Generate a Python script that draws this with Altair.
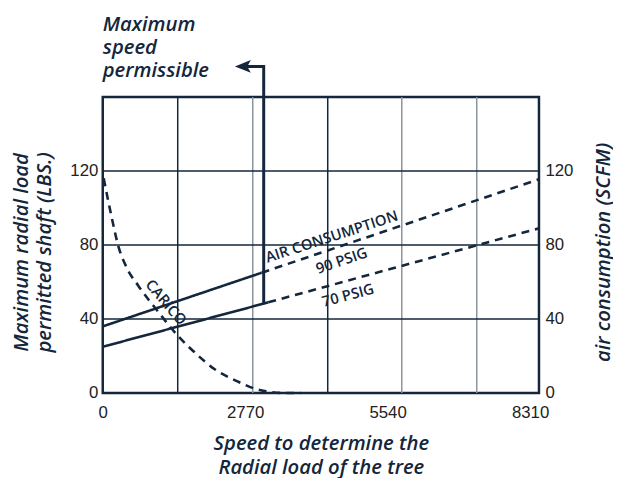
import altair as alt
import pandas as pd

# ---- data ----
speed_ticks = [0, 2770, 5540, 8310]
load_ticks = [0, 40, 80, 120]
grid_speed = [1458, 2917, 4375, 5815, 7273]
grid_tone = ["dark", "gray", "dark", "gray", "gray"]
grid_load = [40, 80, 120]

carico_speed = [19, 173, 307, 461, 691, 1075, 1459, 1785, 2169, 2610, 3051, 3570, 3857]
carico_load = [116, 95, 79, 68, 58, 44, 31, 22, 13, 6.4, 1.6, 0, 0]

psig90_speed = [0, 3090, 8483]
psig90_air = [36, 65, 115.5]
psig70_speed = [0, 3220, 8483]
psig70_air = [25, 49, 89]

limit_speed = [3130, 3130, 2780]
limit_load = [48, 176.5, 176.5]
arrow_speed = [2725]
arrow_load = [176.5]

label_text = ["AIR CONSUMPTION", "90 PSIG", "70 PSIG", "CARICO"]
label_speed = [4452, 4644, 4769, 1230]
label_load = [84.5, 71.5, 52.8, 49]
label_angle = [342, 341, 345, 50]

NAVY = "#13263b"
GRAY = "#8c949c"
TICK = "#222222"

xscale = alt.Scale(domain=[0, 8483], nice=False, zero=False)
yscale = alt.Scale(domain=[0, 160], nice=False, zero=False)

# ---- tables ----
df_vgrid = pd.DataFrame({"speed": grid_speed, "tone": grid_tone})
df_hgrid = pd.DataFrame({"load": grid_load})
df_carico = pd.DataFrame({"speed": carico_speed, "load": carico_load})

rows = []
for name, sp, ai in [("90", psig90_speed, psig90_air), ("70", psig70_speed, psig70_air)]:
    rows += [(name, "solid", sp[0], ai[0]), (name, "solid", sp[1], ai[1]),
             (name, "dashed", sp[1], ai[1]), (name, "dashed", sp[2], ai[2])]
df_lines = pd.DataFrame(rows, columns=["series", "seg", "speed", "air"])

df_limit = pd.DataFrame({"speed": limit_speed, "load": limit_load, "i": list(range(len(limit_speed)))})
df_arrow = pd.DataFrame({"speed": arrow_speed, "load": arrow_load})
df_labels = pd.DataFrame({"text": label_text, "speed": label_speed, "load": label_load, "angle": label_angle})

TFS = 20.5
TFW = 600
x_axis = alt.Axis(
    values=speed_ticks, format="d", grid=False, ticks=False, domain=False,
    labelFont="Liberation Sans", labelFontSize=17, labelColor=TICK, labelPadding=12, labelFlush=False,
    title=["Speed to determine the", "Radial load of the tree"],
    titleFont="Open Sans", titleFontSize=TFS, titleFontStyle="italic", titleFontWeight=TFW,
    titleColor=NAVY, titleX=221, titleY=57, titleBaseline="alphabetic", titleLineHeight=25, titleAlign="center",
)
y_left = alt.Axis(
    orient="left", values=load_ticks, format="d", grid=False, ticks=False, domain=False,
    labelFont="Liberation Sans", labelFontSize=17, labelColor=TICK, labelPadding=5,
    title=["Maximum radial load", "permitted shaft (LBS.)"],
    titleFont="Open Sans", titleFontSize=TFS, titleFontStyle="italic", titleFontWeight=TFW,
    titleColor=NAVY, titleAngle=270, titleX=-76, titleY=157, titleBaseline="alphabetic",
    titleLineHeight=23, titleAlign="center",
)
y_right = alt.Axis(
    orient="right", values=load_ticks, format="d", grid=False, ticks=False, domain=False,
    labelFont="Liberation Sans", labelFontSize=17, labelColor=TICK, labelPadding=6,
    title="air consumption (SCFM)",
    titleFont="Open Sans", titleFontSize=TFS, titleFontStyle="italic", titleFontWeight=TFW,
    titleColor=NAVY, titleAngle=270, titleX=71, titleY=157, titleBaseline="alphabetic", titleAlign="center",
)

X = alt.X("speed:Q", scale=xscale, axis=x_axis)

vgrid = alt.Chart(df_vgrid).mark_rule(strokeWidth=1.5).encode(
    x=X,
    color=alt.Color("tone:N", scale=alt.Scale(domain=["dark", "gray"], range=[NAVY, GRAY]), legend=None),
)
hgrid = alt.Chart(df_hgrid).mark_rule(strokeWidth=1.5, color=NAVY).encode(
    x=alt.value(0), x2=alt.value(442),
    y=alt.Y("load:Q", scale=yscale, axis=y_left),
)
lines = alt.Chart(df_lines).mark_line(strokeWidth=2.6, color=NAVY).encode(
    x=X,
    y=alt.Y("air:Q", scale=yscale, axis=y_right),
    detail="series:N",
    strokeDash=alt.StrokeDash("seg:N", scale=alt.Scale(domain=["solid", "dashed"], range=[[1, 0], [8, 6]]), legend=None),
)
carico = alt.Chart(df_carico).mark_line(strokeWidth=2.6, color=NAVY, strokeDash=[8, 6], interpolate="monotone").encode(
    x=X,
    y=alt.Y("load:Q", scale=yscale, axis=None),
)
limit = alt.Chart(df_limit).mark_line(strokeWidth=3, color=NAVY, clip=False, strokeJoin="miter", strokeCap="butt").encode(
    x=X,
    y=alt.Y("load:Q", scale=yscale, axis=None),
    order="i:Q",
)
arrow = alt.Chart(df_arrow).mark_point(
    shape="M-1,0L1,-0.8L0.55,0L1,0.8Z", filled=True, size=260, color=NAVY, opacity=1, clip=False
).encode(
    x=X,
    y=alt.Y("load:Q", scale=yscale, axis=None),
)
labels = alt.Chart(df_labels).mark_text(
    font="Open Sans", fontWeight=600, fontSize=15, color=NAVY, baseline="middle", align="center"
).encode(
    x=X,
    y=alt.Y("load:Q", scale=yscale, axis=None),
    text="text:N",
    angle=alt.Angle("angle:Q", scale=None),
)

chart = alt.layer(vgrid, hgrid, carico, lines, limit, arrow, labels).resolve_scale(
    y="shared"
).resolve_axis(y="independent").properties(
    width=442, height=300,
    autosize=alt.AutoSizeParams(type="none"),
    padding={"left": 96, "top": 87, "right": 75, "bottom": 83},
    title=alt.TitleParams(
        ["Maximum", "speed", "permissible"], anchor="start", frame="group",
        font="Open Sans", fontSize=TFS, fontStyle="italic", fontWeight=TFW, color=NAVY,
        lineHeight=23.5, offset=14, dy=36,
    ),
    background="white",
).configure_view(stroke=NAVY, strokeWidth=2.5)

chart.save("out.html", embed_options={"renderer": "svg", "actions": False})
